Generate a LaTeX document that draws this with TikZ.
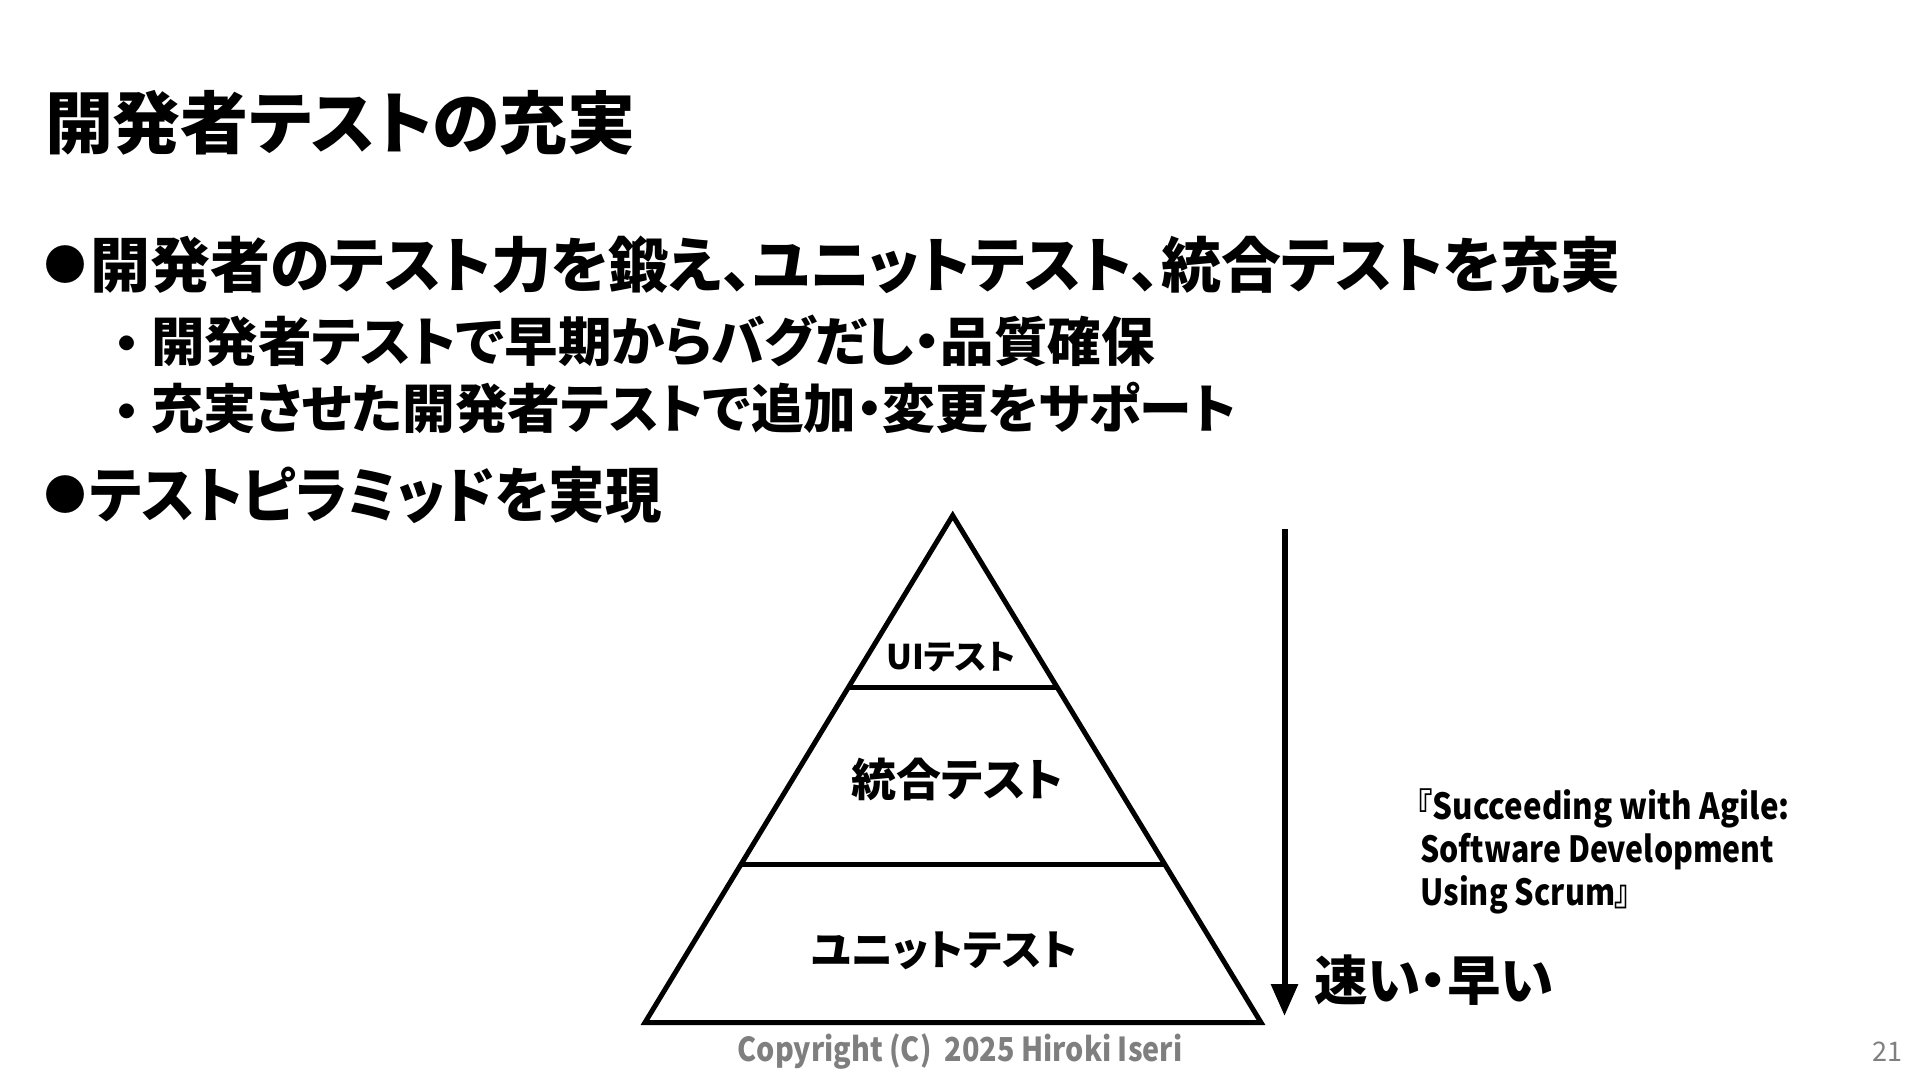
\documentclass[tikz,border=0pt]{standalone}
\usepackage{fontspec}
\usepackage{graphicx}
\setmainfont{Noto Sans CJK JP}[RawFeature=+palt]
\usetikzlibrary{arrows.meta,calc}
\newcommand{\fsz}[1]{\fontsize{#1}{#1}\selectfont}
\definecolor{footgray}{HTML}{7F7F7F}
\begin{document}
\begin{tikzpicture}[x=1pt,y=-1pt,
  txt/.style={inner sep=0pt, outer sep=0pt, font=\bfseries},
  pyr/.style={line width=5pt, line join=miter},
  foot/.style={inner sep=0pt, outer sep=0pt, text=footgray}]
\useasboundingbox[fill=white] (0,0) rectangle (1920,1080);

% title
\node[txt, anchor=west, font=\bfseries\fsz{68}] (title) at (45,122.5) {開発者テストの充実};

% bullets
\node[txt, font=\bfseries\fsz{42}] (bul1) at (65,264.5) {●};
\node[txt, anchor=west, font=\bfseries\fsz{60}] (b1) at (90,264.5) {開発者のテスト力を鍛え、ユニットテスト、統合テストを充実};
\node[txt, font=\bfseries\fsz{53}] (sb1) at (127,350) {・};
\node[txt, anchor=west, font=\bfseries\fsz{53}] (s1) at (151,340.4) {\scalebox{1.01}[1]{開発者テストで早期からバグだし・品質確保}};
\node[txt, font=\bfseries\fsz{53}] (sb2) at (127,417.5) {・};
\node[txt, anchor=west, font=\bfseries\fsz{53}] (s2) at (151,407.8) {\scalebox{0.995}[1]{充実させた開発者テストで追加・変更をサポート}};
\node[txt, font=\bfseries\fsz{42}] (bul2) at (65,494.7) {●};
\node[txt, anchor=west, font=\bfseries\fsz{60}] (b2) at (90,494.7) {\scalebox{0.94}[1]{テストピラミッドを実現}};

% pyramid
\coordinate (apex) at (952.7,515.5);
\coordinate (bl) at (645,1022.5);
\coordinate (br) at (1261,1022.5);
\draw[pyr] (apex) -- (br) -- (bl) -- cycle;
\coordinate (d1l) at ($(apex)!0.3402!(bl)$);
\coordinate (d1r) at ($(apex)!0.3402!(br)$);
\coordinate (d2l) at ($(apex)!0.6884!(bl)$);
\coordinate (d2r) at ($(apex)!0.6884!(br)$);
\draw[pyr] (d1l) -- (d1r);
\draw[pyr] (d2l) -- (d2r);
\node[txt, font=\bfseries\fsz{34}] (ui) at (951,657.6) {UIテスト};
\node[txt, font=\bfseries\fsz{45}] (integ) at (957.6,779) {統合テスト};
\node[txt, font=\bfseries\fsz{42}] (unit) at (944,951) {ユニットテスト};

% arrow
\coordinate (atop) at (1284.5,529);
\coordinate (abot) at (1284.5,1016);
\draw[line width=6pt, -{Triangle[length=32pt,width=26pt]}] (atop) -- (abot);
\node[txt, anchor=west, font=\bfseries\fsz{53.5}] (fast) at (1314,980) {速い・早い};

% citation
\node[txt, anchor=base west, font=\bfseries\fsz{36}] (cite1) at (1417,819) {\scalebox{0.87}[1]{『Succeeding with Agile:}};
\node[txt, anchor=base west, font=\bfseries\fsz{36}] (cite2) at (1420.5,862) {\scalebox{0.84}[1]{Software Development}};
\node[txt, anchor=base west, font=\bfseries\fsz{36}] (cite3) at (1420.5,905) {\scalebox{0.85}[1]{Using Scrum』}};

% footer
\node[foot, font=\bfseries\fsz{33}] (copy) at (960,1052) {\scalebox{0.87}[1]{Copyright (C)\ \ 2025 Hiroki Iseri}};
\node[foot, font=\fsz{27}] (page) at (1887,1052) {21};
\end{tikzpicture}
\end{document}
